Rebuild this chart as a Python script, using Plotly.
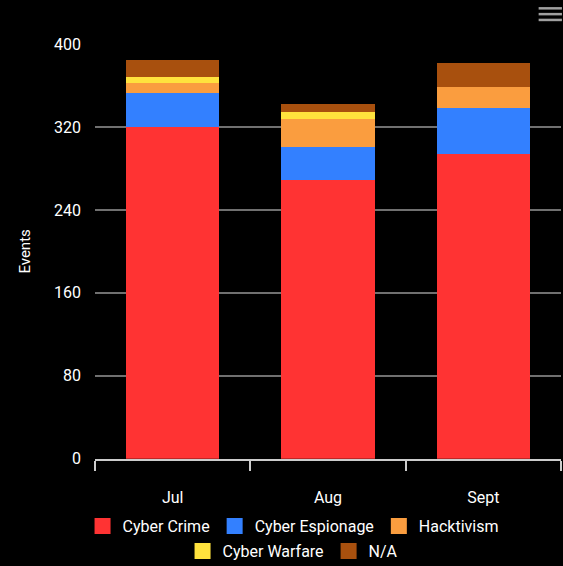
import plotly.graph_objects as go

months = ["Jul", "Aug", "Sept"]
cyber_crime = [320, 269, 294]
cyber_espionage = [33, 32, 44]
hacktivism = [9, 27, 21]
cyber_warfare = [6, 6, 0]
na_values = [17, 8, 23]
y_ticks = [0, 80, 160, 240, 320, 400]

series = [
    ("Cyber Crime", cyber_crime, "#FF3333", "legend"),
    ("Cyber Espionage", cyber_espionage, "#3380FF", "legend"),
    ("Hacktivism", hacktivism, "#FA9D3F", "legend"),
    ("Cyber Warfare", cyber_warfare, "#FFE23D", "legend2"),
    ("N/A", na_values, "#A8500E", "legend2"),
]

fig = go.Figure()
for name, vals, col, lg in series:
    fig.add_trace(go.Bar(name=name, x=months, y=vals, showlegend=False,
                         legendgroup=name,
                         marker=dict(color=col, line=dict(width=0))))
# legend entries with larger square swatches
for name, vals, col, lg in series:
    fig.add_trace(go.Scatter(name=name, x=[None], y=[None], mode="markers",
                             legend=lg, legendgroup=name, showlegend=True,
                             marker=dict(symbol="square", size=18, color=col,
                                         line=dict(width=0))))

legend_common = dict(orientation="h", xanchor="center", yanchor="middle",
                     yref="container",
                     font=dict(size=16, color="#ffffff"), traceorder="normal",
                     bgcolor="rgba(0,0,0,0)", itemwidth=30, itemsizing="trace")

fig.update_layout(
    barmode="stack",
    bargap=0.4,
    width=563, height=566,
    margin=dict(l=95, r=2, t=44, b=106),
    paper_bgcolor="#000000",
    plot_bgcolor="#000000",
    font=dict(family="Roboto, sans-serif", color="#ffffff", size=16),
    showlegend=True,
    legend=dict(x=0.425, y=0.0707, **legend_common),
    legend2=dict(x=0.425, y=0.0265, **legend_common),
    xaxis=dict(showgrid=False, showline=True, linecolor="#cccccc", linewidth=2,
               ticks="outside", tickson="boundaries", ticklen=10, tickcolor="#cccccc",
               tickwidth=2, tickfont=dict(size=16, color="#ffffff"),
               ticklabelstandoff=23, fixedrange=True),
    yaxis=dict(range=[0, 400], tickvals=y_ticks, showgrid=True, gridcolor="#707070",
               gridwidth=1.5, zeroline=False, showline=False, ticks="",
               tickfont=dict(size=16, color="#ffffff"), ticklabelstandoff=13,
               title=dict(text="Events", font=dict(size=15, color="#ffffff"), standoff=19)),
)

# hamburger menu icon (top right)
for yy in [1.086, 1.072, 1.058]:
    fig.add_shape(type="line", xref="paper", yref="paper", x0=0.952, x1=1.002,
                  y0=yy, y1=yy, line=dict(color="#a0a0a0", width=2.5))

fig.write_html("out.html", config={"displayModeBar": False},
               post_script="document.body.style.margin='0';document.body.style.background='#000';")
